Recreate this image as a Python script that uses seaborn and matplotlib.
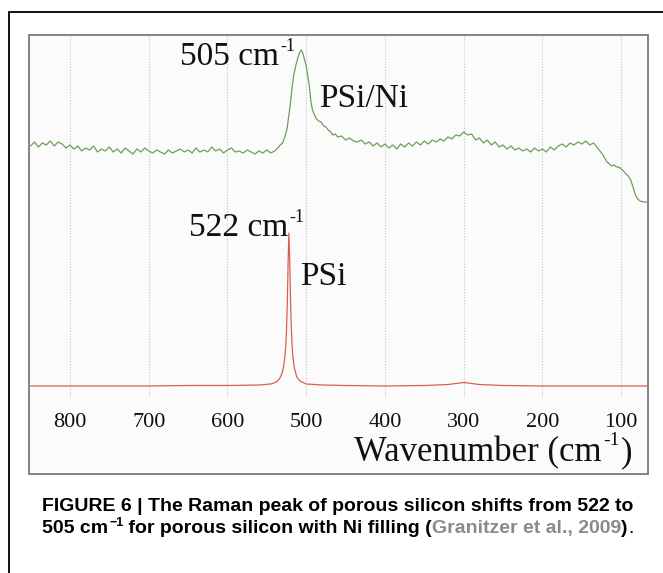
import numpy as np
import pandas as pd
import matplotlib
matplotlib.use("Agg")
import matplotlib.pyplot as plt
import matplotlib.patches as mpatches
import seaborn as sns

# ---------------- data ----------------
green_x = [850, 845, 840, 835, 830, 825, 820, 815, 810, 805, 800, 795, 790, 785, 780, 775, 770, 765, 760,
           755, 750, 745, 740, 735, 730, 725, 720, 715, 710, 705, 700, 695, 690, 685, 680, 675, 670, 665,
           660, 655, 650, 645, 640, 635, 630, 625, 620, 615, 610, 605, 600, 595, 590, 585, 580, 575, 570,
           565, 560, 555, 550, 545, 540, 536, 533, 530, 528, 526, 524, 522, 520, 518, 516, 514, 512, 510,
           508, 506, 504, 502, 500, 498, 496, 494, 492, 490, 487, 484, 481, 478, 475, 472, 469, 466, 463,
           460, 455, 450, 445, 440, 435, 430, 425, 420, 415, 410, 405, 400, 395, 390, 385, 380, 375, 370,
           365, 360, 355, 350, 345, 340, 335, 330, 325, 320, 315, 310, 305, 300, 295, 290, 285, 280, 275,
           270, 265, 260, 255, 250, 245, 240, 235, 230, 225, 220, 215, 210, 205, 200, 195, 190, 185, 180,
           175, 170, 165, 160, 155, 150, 145, 140, 135, 130, 127, 124, 121, 118, 115, 112, 109, 106, 103,
           100, 97, 94, 91, 88, 85, 82, 79, 76, 72, 68, 66]
green_y = [252, 256, 251, 255, 253, 257, 252, 256, 254, 250, 253, 249, 252, 247, 250, 248, 252, 246, 249,
           247, 251, 246, 249, 245, 250, 247, 244, 249, 246, 250, 247, 245, 248, 246, 244, 248, 245, 247,
           249, 246, 248, 245, 250, 246, 248, 246, 251, 247, 249, 245, 248, 250, 246, 247, 245, 248, 246,
           244, 247, 245, 248, 245, 247, 250, 253, 255, 259, 264, 271, 283, 295, 310, 322, 330, 336, 342,
           346, 348, 344, 338, 332, 322, 312, 296, 288, 284, 279, 277, 276, 272, 271, 268, 266, 263, 264,
           261, 262, 258, 260, 257, 256, 258, 254, 256, 252, 255, 251, 254, 250, 253, 249, 254, 251, 255,
           252, 256, 253, 257, 254, 258, 256, 259, 257, 261, 259, 263, 262, 266, 263, 264, 258, 260, 255,
           258, 253, 256, 251, 253, 249, 252, 248, 250, 247, 249, 246, 250, 247, 249, 246, 251, 248, 252,
           254, 251, 255, 253, 256, 254, 257, 253, 255, 250, 247, 244, 240, 236, 234, 232, 233, 231, 231,
           229, 227, 224, 222, 218, 211, 203, 199, 197, 196, 196, 196]

red_x = [850, 800, 750, 700, 650, 600, 560, 545, 538, 534, 531, 529, 527, 526, 525, 524, 523, 522,
         521, 520, 519, 518, 517, 515, 512, 508, 500, 480, 450, 400, 350, 320, 305, 300, 295, 280,
         250, 200, 150, 100, 66]
red_y = [12, 12, 12, 12, 12.5, 12.5, 13, 14, 16, 19, 24, 30, 42, 52, 68, 95, 135, 165,
         140, 100, 72, 54, 42, 30, 21, 17, 14, 13, 12.5, 12, 12.5, 13.5, 15, 15.5, 15, 13.5,
         12.5, 12, 12, 12, 12]

tick_values = [800, 700, 600, 500, 400, 300, 200, 100]
peak_texts = ["505 cm", "PSi/Ni", "522 cm", "PSi"]
sup_text = "-1"
x_label_parts = ["Wavenumber (cm", "-1", ")"]

# ---------------- style ----------------
sns.set_theme(style="white")
plt.rcParams["font.family"] = ["Liberation Serif", "DejaVu Serif"]

W, H = 663, 573
fig = plt.figure(figsize=(W / 100, H / 100), dpi=100)
fig.patch.set_facecolor("white")
renderer = fig.canvas.get_renderer()
INK = "#111111"

def fx(px):
    return px / W

def fy(py):
    return 1 - py / H

def put(xpx, ybase, s, size=12, weight="normal", color="black", family=None, ha="left"):
    kw = {}
    if family is not None:
        kw["family"] = family
    t = fig.text(fx(xpx), fy(ybase), s, ha=ha, va="baseline", fontsize=size,
                 fontweight=weight, color=color, **kw)
    bb = t.get_window_extent(renderer)
    return bb.x0, bb.x1

# outer frame (runs off the right and bottom edges)
fig.add_artist(mpatches.Rectangle((fx(9), -0.2), 1.3, fy(12) + 0.2, transform=fig.transFigure,
                                  fill=False, edgecolor="black", lw=1.3, zorder=-2))
# inner chart box
fig.add_artist(mpatches.Rectangle((fx(29), fy(474)), fx(648) - fx(29), fy(35) - fy(474),
                                  transform=fig.transFigure, facecolor="#fbfbfb",
                                  edgecolor="#7a7a7a", lw=1.3, zorder=-1))

ax = fig.add_axes([fx(29), fy(398), fx(648) - fx(29), fy(35) - fy(398)])
ax.set_facecolor("none")

df_g = pd.DataFrame({"wn": green_x, "I": green_y})
df_r = pd.DataFrame({"wn": red_x, "I": red_y})
sns.lineplot(data=df_g, x="wn", y="I", ax=ax, color="#6f9e5c", lw=0.9, sort=False, estimator=None)
sns.lineplot(data=df_r, x="wn", y="I", ax=ax, color="#d9604f", lw=0.9, sort=False, estimator=None)

ax.set_xlim(852, 66)
ax.set_ylim(0, 363)
ax.set_xticks(tick_values)
ax.set_xticklabels([str(v) for v in tick_values])
ax.set_yticks([])
ax.set_xlabel("")
ax.set_ylabel("")
ax.grid(axis="x", ls=(0, (1, 1.5)), color="#c4c4c4", lw=0.8)
ax.tick_params(axis="x", length=0, pad=11, labelsize=16, labelcolor=INK)
for s in ax.spines.values():
    s.set_visible(False)

# peak annotations (main text + small raised "-1")
_, r = put(180, 65, peak_texts[0], size=24, color=INK)
put(r + 1, 51, sup_text, size=13, color=INK)
put(319, 107, peak_texts[1], size=24, color=INK)
_, r = put(189, 236, peak_texts[2], size=24, color=INK)
put(r + 1, 222, sup_text, size=13, color=INK)
put(300, 285, peak_texts[3], size=24, color=INK)

# x-axis title, right aligned inside the box
l, _ = put(632, 461, x_label_parts[2], size=25, color=INK, ha="right")
l, _ = put(l - 1, 445, x_label_parts[1], size=14, color=INK, ha="right")
put(l - 1, 461, x_label_parts[0], size=25, color=INK, ha="right")

# ---------------- caption ----------------
cap_font = ["Liberation Sans", "DejaVu Sans"]
put(42, 511, "FIGURE 6 | The Raman peak of porous silicon shifts from 522 to",
    size=14, weight="bold", family=cap_font)
_, x = put(42, 533, "505 cm", size=14, weight="bold", family=cap_font)
_, x = put(x + 1, 526, "\u22121", size=9, weight="bold", family=cap_font)
_, x = put(x, 533, " for porous silicon with Ni filling (", size=14, weight="bold", family=cap_font)
_, x = put(x, 533, "Granitzer et al., 2009", size=14, weight="bold", color="#8a8a8a", family=cap_font)
_, x = put(x, 533, ")", size=14, weight="bold", family=cap_font)
put(x, 533, ".", size=14, family=cap_font)

fig.savefig("out.png", dpi=100)
